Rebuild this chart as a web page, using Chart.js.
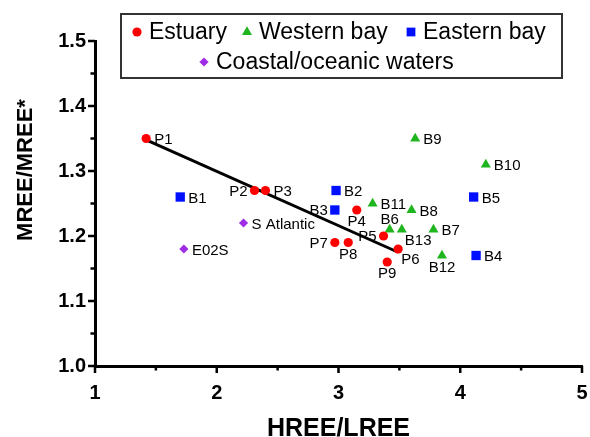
<!DOCTYPE html>
<html>
<head>
<meta charset="utf-8">
<script src="https://cdn.jsdelivr.net/npm/chart.js@4.4.1/dist/chart.umd.min.js"></script>
<style>
    html, body { margin: 0; padding: 0; background: #ffffff; }
    #wrap { width: 590px; height: 437px; }
</style>
</head>
<body>
<div id="wrap"><canvas id="reeChart" width="590" height="437"></canvas></div>
<script>
// sample sites and their REE ratios
const estuaryNames = ["P1", "P2", "P3", "P4", "P5", "P6", "P7", "P8", "P9"];
const estuaryX = [1.42, 2.31, 2.40, 3.15, 3.37, 3.49, 2.97, 3.08, 3.40];
const estuaryY = [1.35, 1.27, 1.27, 1.24, 1.20, 1.18, 1.19, 1.19, 1.16];

const westernNames = ["B6", "B7", "B8", "B9", "B10", "B11", "B12", "B13"];
const westernX = [3.42, 3.78, 3.60, 3.63, 4.21, 3.28, 3.85, 3.52];
const westernY = [1.21, 1.21, 1.24, 1.35, 1.31, 1.25, 1.17, 1.21];

const easternNames = ["B1", "B2", "B3", "B4", "B5"];
const easternX = [1.70, 2.98, 2.97, 4.13, 4.11];
const easternY = [1.26, 1.27, 1.24, 1.17, 1.26];

const coastalNames = ["S Atlantic", "E02S"];
const coastalX = [2.22, 1.73];
const coastalY = [1.22, 1.18];

// linear fit through the estuary samples (end points)
const fitX = [1.42, 3.49];
const fitY = [1.348, 1.175];

const xTicks = [1, 2, 3, 4, 5];
const yTicks = [1.0, 1.1, 1.2, 1.3, 1.4, 1.5];

// where each point label sits relative to its marker
const labelSide = {
    P1: "r", P2: "l", P3: "r", P4: "b", P5: "l", P6: "br", P7: "l", P8: "b", P9: "b",
    B1: "r", B2: "r", B3: "l", B4: "r", B5: "r", B6: "t", B7: "r", B8: "r",
    B9: "r", B10: "r", B11: "r", B12: "b", B13: "br",
    "S Atlantic": "r", "E02S": "r"
};

const FONT = "'Liberation Sans', Arial, Helvetica, sans-serif";
Chart.defaults.font.family = FONT;

function toPoints(xs, ys, names) {
    return xs.map((x, i) => ({ x, y: ys[i], name: names ? names[i] : "" }));
}

const series = [
    { label: "Estuary", color: "#ff0000", style: "circle", radius: 4.6, names: estuaryNames, xs: estuaryX, ys: estuaryY },
    { label: "Western bay", color: "#1fb51f", style: "triangle", radius: 5.8, names: westernNames, xs: westernX, ys: westernY },
    { label: "Eastern bay", color: "#0010ff", style: "rect", radius: 6.6, names: easternNames, xs: easternX, ys: easternY },
    { label: "Coastal/oceanic waters", color: "#a02de6", style: "rectRot", radius: 4.6, names: coastalNames, xs: coastalX, ys: coastalY }
];

const datasets = series.map((s) => ({
    type: "scatter",
    label: s.label,
    data: toPoints(s.xs, s.ys, s.names),
    pointStyle: s.style,
    pointRadius: s.radius,
    pointHoverRadius: s.radius,
    backgroundColor: s.color,
    borderColor: s.color,
    borderWidth: 0,
    order: 1
}));

datasets.push({
    type: "line",
    label: "fit",
    data: toPoints(fitX, fitY),
    borderColor: "#000000",
    borderWidth: 3,
    pointRadius: 0,
    fill: false,
    order: 5
});

const pointLabels = {
    id: "pointLabels",
    afterDatasetsDraw(chart) {
        const ctx = chart.ctx;
        ctx.save();
        ctx.fillStyle = "#000";
        ctx.font = `15px ${FONT}`;
        chart.data.datasets.forEach((ds, di) => {
            if (ds.type !== "scatter") return;
            const meta = chart.getDatasetMeta(di);
            meta.data.forEach((el, i) => {
                const name = ds.data[i].name;
                const side = labelSide[name] || "r";
                let x = el.x;
                let y = el.y;
                if (side === "r") { ctx.textAlign = "left"; x += 8; y += 1.5; }
                else if (side === "l") { ctx.textAlign = "right"; x -= 7; y += 1; }
                else if (side === "b") { ctx.textAlign = "center"; y += 12; }
                else if (side === "t") { ctx.textAlign = "center"; y -= 10; }
                else { ctx.textAlign = "left"; x += 3; y += 11; }
                ctx.textBaseline = "middle";
                ctx.fillText(name, x, y);
            });
        });
        ctx.restore();
    }
};

const axisDecor = {
    id: "axisDecor",
    afterDraw(chart) {
        const ctx = chart.ctx;
        const xs = chart.scales.x;
        const ys = chart.scales.y;
        const area = chart.chartArea;
        ctx.save();
        ctx.strokeStyle = "#000";
        ctx.lineWidth = 2.5;
        ctx.beginPath();
        for (let v = 1; v <= 5.001; v += 0.5) {
            const px = xs.getPixelForValue(v);
            const major = Math.abs(v - Math.round(v)) < 1e-6;
            ctx.moveTo(px, area.bottom);
            ctx.lineTo(px, area.bottom + (major ? 7 : 4.5));
        }
        for (let k = 0; k <= 10; k += 1) {
            const v = 1 + k * 0.05;
            const py = ys.getPixelForValue(v);
            const major = k % 2 === 0;
            ctx.moveTo(area.left, py);
            ctx.lineTo(area.left - (major ? 7 : 4.5), py);
        }
        ctx.stroke();

        // y axis title
        ctx.fillStyle = "#000";
        ctx.font = `bold 22px ${FONT}`;
        ctx.textAlign = "center";
        ctx.textBaseline = "middle";
        ctx.translate(25.5, 170);
        ctx.rotate(-Math.PI / 2);
        ctx.fillText("MREE/MREE*", 0, 0);
        ctx.restore();

        // legend box
        ctx.save();
        ctx.strokeStyle = "#333";
        ctx.lineWidth = 2;
        ctx.strokeRect(121, 14, 441, 64);
        ctx.font = `23px ${FONT}`;
        ctx.textAlign = "left";
        ctx.textBaseline = "middle";
        const slots = [[137, 32], [247, 32], [411, 32], [204, 62]];
        series.forEach((s, i) => {
            const [mx, my] = slots[i];
            ctx.fillStyle = s.color;
            ctx.strokeStyle = s.color;
            Chart.helpers.drawPoint(ctx, {
                pointStyle: s.style,
                radius: s.style === "rect" ? 6.2 : s.radius,
                borderWidth: 0,
                rotation: 0
            }, mx, my);
            ctx.fillStyle = "#000";
            ctx.fillText(s.label, mx + 12, my + 1);
        });
        ctx.restore();
    }
};

new Chart(document.getElementById("reeChart"), {
    data: { datasets },
    options: {
        responsive: false,
        animation: false,
        events: [],
        layout: { padding: { top: 41, right: 8, left: 0, bottom: 0 } },
        plugins: {
            legend: { display: false },
            tooltip: { enabled: false },
            title: { display: false }
        },
        scales: {
            x: {
                type: "linear",
                min: 1,
                max: 5,
                afterFit: (s) => { s.height = 71; s.paddingLeft = 0; s.paddingRight = 0; },
                afterBuildTicks: (s) => { s.ticks = xTicks.map((v) => ({ value: v })); },
                grid: { display: false, drawTicks: false },
                border: { display: true, color: "#000", width: 3 },
                ticks: {
                    padding: 15,
                    color: "#000",
                    font: { size: 20, weight: "bold" },
                    callback: (v) => String(v)
                },
                title: {
                    display: true,
                    text: "HREE/LREE",
                    color: "#000",
                    font: { size: 25, weight: "bold", lineHeight: 1 },
                    padding: { top: 0, bottom: -5 }
                }
            },
            y: {
                type: "linear",
                min: 1.0,
                max: 1.5,
                afterFit: (s) => { s.width = 95; s.paddingTop = 0; s.paddingBottom = 0; },
                afterBuildTicks: (s) => { s.ticks = yTicks.map((v) => ({ value: v })); },
                grid: { display: false, drawTicks: false },
                border: { display: true, color: "#000", width: 3 },
                ticks: {
                    padding: 9,
                    color: "#000",
                    font: { size: 20, weight: "bold" },
                    callback: (v) => Number(v).toFixed(1)
                }
            }
        }
    },
    plugins: [pointLabels, axisDecor]
});
</script>
</body>
</html>
